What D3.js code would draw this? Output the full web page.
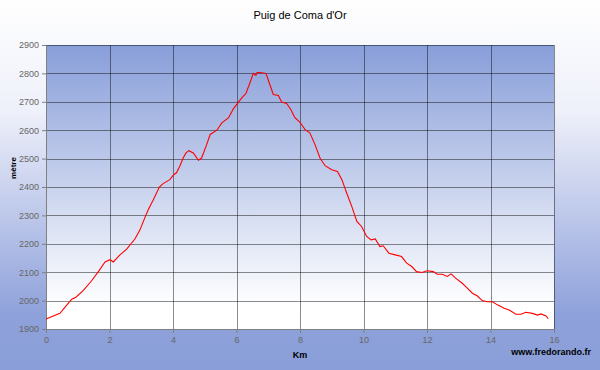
<!DOCTYPE html>
<html>
<head>
<meta charset="utf-8">
<script src="https://cdn.jsdelivr.net/npm/d3@7"></script>
<style>
  body { margin: 0; }
  svg { display: block; font-family: "Liberation Sans", Arial, sans-serif; }
</style>
</head>
<body>
<div class="canvas"></div>
<script>
// profile data
const km = [0, 0.23, 0.44, 0.6, 0.81, 0.94, 1.17, 1.43, 1.65, 1.86, 2.02, 2.12, 2.33, 2.54, 2.8, 2.96,
  3.12, 3.22, 3.38, 3.57, 3.69, 3.9, 4.03, 4.11, 4.22, 4.32, 4.41, 4.5, 4.64, 4.8, 4.9, 5.06, 5.17,
  5.38, 5.54, 5.75, 5.9, 6.01, 6.14, 6.3, 6.43, 6.53, 6.61, 6.65, 6.74, 6.93, 7.03, 7.16, 7.32, 7.42,
  7.58, 7.71, 7.84, 8.0, 8.16, 8.31, 8.47, 8.63, 8.79, 9.0, 9.18, 9.32, 9.47, 9.63, 9.79, 9.94, 10.1,
  10.24, 10.37, 10.52, 10.62, 10.8, 11.0, 11.2, 11.36, 11.52, 11.67, 11.84, 12.0, 12.2, 12.32, 12.48,
  12.64, 12.76, 12.9, 13.11, 13.27, 13.43, 13.59, 13.74, 13.9, 14.06, 14.22, 14.43, 14.59, 14.8,
  14.96, 15.11, 15.32, 15.48, 15.59, 15.75, 15.82];
const elev = [1935, 1946, 1955, 1977, 2005, 2012, 2035, 2069, 2102, 2136, 2144, 2136, 2161, 2181, 2217, 2249,
  2294, 2320, 2355, 2400, 2412, 2426, 2444, 2450, 2475, 2502, 2520, 2528, 2520, 2494, 2502, 2549, 2585,
  2600, 2626, 2644, 2675, 2691, 2710, 2730, 2769, 2800, 2793, 2803, 2803, 2800, 2767, 2726, 2722, 2699,
  2694, 2673, 2644, 2628, 2602, 2591, 2550, 2502, 2475, 2461, 2455, 2426, 2379, 2332, 2279, 2261, 2226,
  2214, 2217, 2190, 2193, 2167, 2161, 2155, 2132, 2120, 2102, 2099, 2105, 2102, 2093, 2093,
  2085, 2094, 2079, 2061, 2044, 2026, 2016, 2000, 1996, 1996, 1985, 1973, 1967, 1952,
  1952, 1959, 1955, 1949, 1953, 1946, 1936];

const xTicks = [0, 2, 4, 6, 8, 10, 12, 14, 16];
const yTicks = [1900, 2000, 2100, 2200, 2300, 2400, 2500, 2600, 2700, 2800, 2900];

const width = 600, height = 370;
const margin = {top: 45, bottom: 41, left: 46, right: 46};
const graphWidth = width - margin.left - margin.right;
const graphHeight = height - margin.top - margin.bottom;

const svg = d3.select('.canvas')
  .append('svg')
    .attr('width', width)
    .attr('height', height);

const defs = svg.append('defs');
const outerGrad = defs.append('linearGradient')
  .attr('id', 'outerGrad').attr('x1', 0).attr('y1', 0).attr('x2', 0).attr('y2', 1);
outerGrad.append('stop').attr('offset', '0%').attr('stop-color', '#ffffff');
outerGrad.append('stop').attr('offset', '30%').attr('stop-color', '#eef0fa');
outerGrad.append('stop').attr('offset', '85%').attr('stop-color', '#8ea1da');
outerGrad.append('stop').attr('offset', '100%').attr('stop-color', '#8a9ed9');

const plotGrad = defs.append('linearGradient')
  .attr('id', 'plotGrad').attr('x1', 0).attr('y1', 0).attr('x2', 0).attr('y2', 1);
plotGrad.append('stop').attr('offset', '0%').attr('stop-color', '#889ed9');
plotGrad.append('stop').attr('offset', '92%').attr('stop-color', '#ffffff');
plotGrad.append('stop').attr('offset', '100%').attr('stop-color', '#ffffff');

svg.append('rect')
  .attr('width', width).attr('height', height)
  .attr('fill', 'url(#outerGrad)');

const graph = svg.append('g')
  .attr('transform', `translate(${margin.left},${margin.top})`);

const x = d3.scaleLinear().domain([0, 16]).range([0, graphWidth]);
const y = d3.scaleLinear().domain([1900, 2900]).range([graphHeight, 0]);

graph.append('rect')
  .attr('width', graphWidth).attr('height', graphHeight)
  .attr('fill', 'url(#plotGrad)');

//grid lines
graph.selectAll('.hgrid')
  .data(yTicks)
  .enter().append('line')
    .attr('x1', 0).attr('x2', graphWidth)
    .attr('y1', d => Math.round(y(d)) + 0.5).attr('y2', d => Math.round(y(d)) + 0.5)
    .attr('stroke', '#000').attr('stroke-opacity', 0.45);

graph.selectAll('.vgrid')
  .data(xTicks)
  .enter().append('line')
    .attr('y1', 0).attr('y2', graphHeight)
    .attr('x1', d => Math.round(x(d)) + 0.5).attr('x2', d => Math.round(x(d)) + 0.5)
    .attr('stroke', '#000').attr('stroke-opacity', 0.45);

//axes
const xAxis = d3.axisBottom(x).tickValues(xTicks).tickSize(4).tickPadding(4);
const yAxis = d3.axisLeft(y).tickValues(yTicks).tickSize(4).tickPadding(3).tickFormat(d3.format('d'));

const xg = graph.append('g').attr('transform', `translate(0,${graphHeight})`).call(xAxis);
const yg = graph.append('g').call(yAxis);
[xg, yg].forEach(g => {
  g.selectAll('path, line').attr('stroke', '#808080');
  g.selectAll('text').attr('fill', '#666').style('font-size', '9px')
    .style('font-family', '"Liberation Sans", Arial, sans-serif');
});

//profile line
const line = d3.line()
  .x((d, i) => x(km[i]))
  .y(d => y(d));

graph.append('path')
  .datum(elev)
  .attr('d', line)
  .attr('fill', 'none')
  .attr('stroke', '#ff0000')
  .attr('stroke-width', 1.1);

//labels
svg.append('text')
  .attr('x', 300).attr('y', 19)
  .attr('text-anchor', 'middle')
  .style('font-size', '11px')
  .text("Puig de Coma d'Or");

svg.append('text')
  .attr('transform', 'translate(16,168) rotate(-90)')
  .attr('text-anchor', 'middle')
  .style('font-size', '8px').style('font-weight', 'bold')
  .text('mètre');

svg.append('text')
  .attr('x', 300).attr('y', 358)
  .attr('text-anchor', 'middle')
  .style('font-size', '9px').style('font-weight', 'bold')
  .text('Km');

svg.append('text')
  .attr('x', 591).attr('y', 355)
  .attr('text-anchor', 'end')
  .style('font-size', '9px').style('font-weight', 'bold')
  .text('www.fredorando.fr');
</script>
</body>
</html>
